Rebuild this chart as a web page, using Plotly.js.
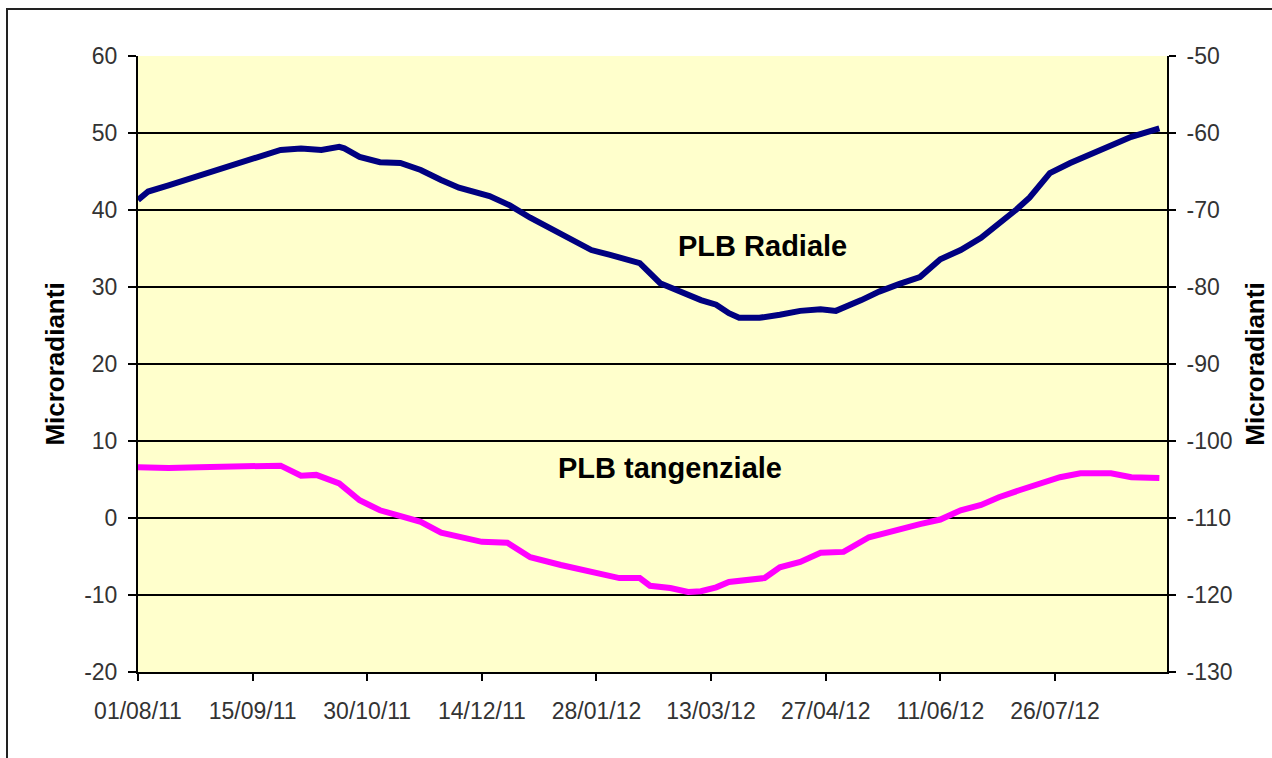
<!DOCTYPE html>
<html>
<head>
<meta charset="utf-8">
<script src="https://cdn.plot.ly/plotly-3.0.1.min.js"></script>
<style>
  html, body { margin: 0; padding: 0; background: #ffffff; }
  #frame { position: absolute; left: 6px; top: 8px; width: 1300px; height: 800px; border: 2px solid #222; box-sizing: border-box; }
  #chart { position: absolute; left: 0; top: 0; width: 1272px; height: 758px; }
</style>
</head>
<body>
<div id="frame"></div>
<div id="chart"></div>
<script>
// Radial series (left axis)
const radialDates = ["2011-08-01","2011-08-05","2011-08-13","2011-08-25","2011-09-06","2011-09-18","2011-09-26","2011-10-04","2011-10-12","2011-10-19","2011-10-21","2011-10-27","2011-11-04","2011-11-12","2011-11-20","2011-11-28","2011-12-05","2011-12-17","2011-12-25","2012-01-02","2012-01-14","2012-01-26","2012-02-02","2012-02-14","2012-02-22","2012-03-01","2012-03-09","2012-03-15","2012-03-20","2012-03-24","2012-04-01","2012-04-09","2012-04-17","2012-04-25","2012-05-01","2012-05-11","2012-05-18","2012-05-26","2012-06-03","2012-06-11","2012-06-19","2012-06-27","2012-07-04","2012-07-11","2012-07-16","2012-07-24","2012-08-01","2012-08-09","2012-08-17","2012-08-25","2012-09-05"];
const radialValues = [41.3,42.4,43.2,44.4,45.7,46.8,47.8,48.0,47.8,48.2,48.0,46.9,46.2,46.1,45.2,43.9,42.9,41.8,40.6,39.0,36.8,34.8,34.2,33.1,30.5,29.4,28.3,27.7,26.6,26.0,26.0,26.4,26.9,27.1,26.9,28.3,29.4,30.4,31.3,33.6,34.8,36.4,38.2,40.1,41.6,44.8,46.1,47.2,48.4,49.5,50.6];

// Tangential series
const tangDates = ["2011-08-01","2011-08-13","2011-08-25","2011-09-06","2011-09-18","2011-09-26","2011-10-04","2011-10-10","2011-10-19","2011-10-27","2011-11-04","2011-11-12","2011-11-20","2011-11-28","2011-12-14","2011-12-24","2012-01-02","2012-01-14","2012-01-26","2012-02-06","2012-02-14","2012-02-18","2012-02-26","2012-03-04","2012-03-09","2012-03-15","2012-03-20","2012-03-28","2012-04-03","2012-04-09","2012-04-17","2012-04-25","2012-05-04","2012-05-14","2012-05-26","2012-06-03","2012-06-11","2012-06-19","2012-06-27","2012-07-04","2012-07-12","2012-07-20","2012-07-28","2012-08-05","2012-08-17","2012-08-25","2012-09-05"];
const tangValues = [6.6,6.5,6.6,6.7,6.8,6.8,5.5,5.6,4.5,2.3,1.0,0.3,-0.5,-1.9,-3.1,-3.2,-5.1,-6.1,-7.0,-7.8,-7.8,-8.8,-9.1,-9.6,-9.5,-9.0,-8.3,-8.1,-7.8,-6.4,-5.7,-4.5,-4.4,-2.5,-1.4,-0.8,-0.2,1.0,1.7,2.7,3.6,4.5,5.3,5.8,5.8,5.3,5.2];

const xTickVals = ["2011-08-01","2011-09-15","2011-10-30","2011-12-14","2012-01-28","2012-03-13","2012-04-27","2012-06-11","2012-07-26"];
const xTickText = ["01/08/11","15/09/11","30/10/11","14/12/11","28/01/12","13/03/12","27/04/12","11/06/12","26/07/12"];
const yLeftVals = [60,50,40,30,20,10,0,-10,-20];
const yLeftText = ["60","50","40","30","20","10","0","-10","-20"];
const yRightVals = [-50,-60,-70,-80,-90,-100,-110,-120,-130];
const yRightText = ["-50","-60","-70","-80","-90","-100","-110","-120","-130"];
const labelRadial = "PLB Radiale";
const labelTang = "PLB tangenziale";
const axisTitle = "Microradianti";

const tickFont = {family: "Arial, 'Liberation Sans', sans-serif", size: 23, color: "#333333"};
const titleFont = {family: "Arial, 'Liberation Sans', sans-serif", size: 26, color: "#000000", weight: "bold"};

const traces = [
  {x: radialDates, y: radialValues, type: "scatter", mode: "lines", name: labelRadial,
   line: {color: "#000080", width: 6}, yaxis: "y"},
  {x: tangDates, y: tangValues, type: "scatter", mode: "lines", name: labelTang,
   line: {color: "#FF00FF", width: 6}, yaxis: "y"}
];

const layout = {
  width: 1272, height: 758,
  margin: {l: 138, r: 105, t: 56, b: 86},
  paper_bgcolor: "rgba(0,0,0,0)",
  plot_bgcolor: "#FFFFCC",
  showlegend: false,
  xaxis: {
    type: "date", range: ["2011-08-01", "2012-09-08"],
    tickvals: xTickVals, ticktext: xTickText,
    ticks: "outside", ticklen: 7, tickcolor: "#000", tickwidth: 2,
    showline: true, linecolor: "#000", linewidth: 2,
    showgrid: false, zeroline: false,
    tickfont: tickFont, ticklabelstandoff: 10
  },
  yaxis: {
    range: [-20, 60], tickvals: yLeftVals, ticktext: yLeftText,
    ticks: "outside", ticklen: 8, tickcolor: "#000", tickwidth: 2,
    showline: true, linecolor: "#000", linewidth: 2,
    showgrid: true, gridcolor: "#000", gridwidth: 2, zeroline: false,
    tickfont: tickFont, ticklabelstandoff: 6,
    title: {text: axisTitle, font: titleFont, standoff: 12},
    automargin: false
  },
  yaxis2: {
    range: [-130, -50], overlaying: "y", side: "right",
    tickvals: yRightVals, ticktext: yRightText,
    ticks: "outside", ticklen: 7, tickcolor: "#000", tickwidth: 2,
    showline: true, linecolor: "#000", linewidth: 2,
    showgrid: false, zeroline: false,
    tickfont: tickFont, ticklabelstandoff: 6,
    title: {text: axisTitle, font: titleFont, standoff: 14},
    automargin: false
  },
  annotations: [
    {x: "2012-04-02", y: 35.3, xref: "x", yref: "y", text: labelRadial, showarrow: false,
     font: {family: "Arial, 'Liberation Sans', sans-serif", size: 29, color: "#000", weight: "bold"}},
    {x: "2012-02-26", y: 6.5, xref: "x", yref: "y", text: labelTang, showarrow: false,
     font: {family: "Arial, 'Liberation Sans', sans-serif", size: 29, color: "#000", weight: "bold"}}
  ]
};

// invisible trace so the right axis is shown
traces.push({x: [radialDates[0]], y: [-50], type: "scatter", mode: "lines", yaxis: "y2",
  line: {color: "rgba(0,0,0,0)"}, hoverinfo: "skip", showlegend: false});

Plotly.newPlot("chart", traces, layout, {displayModeBar: false, staticPlot: true});
</script>
</body>
</html>
